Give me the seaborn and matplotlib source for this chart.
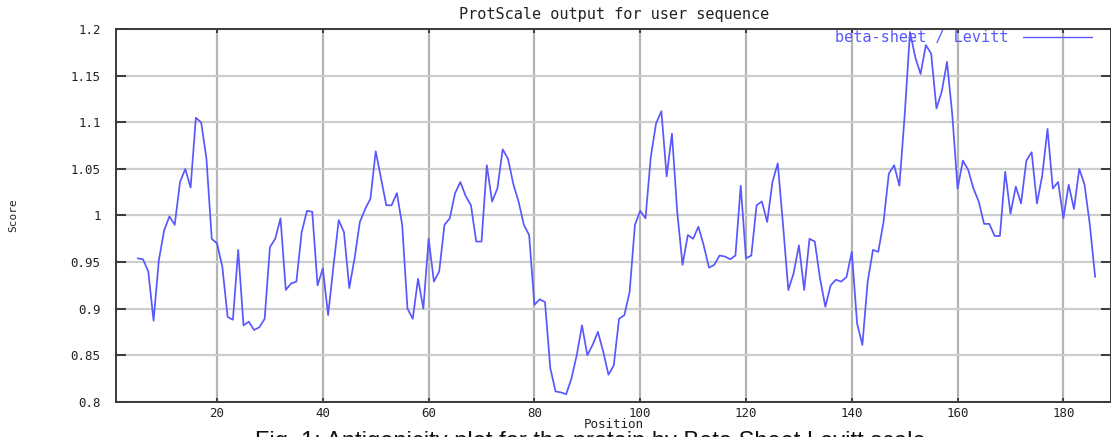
import numpy as np
import pandas as pd
import matplotlib
matplotlib.use("Agg")
import matplotlib.pyplot as plt
import seaborn as sns

# ProtScale beta-sheet (Levitt) profile, window centre positions 5..186
positions = list(range(5, 187))
scores = [
    0.954, 0.953, 0.940, 0.887, 0.952, 0.984, 0.999, 0.990, 1.036, 1.050,   # 5-14
    1.030, 1.105, 1.100, 1.061, 0.975, 0.970, 0.945, 0.891, 0.888, 0.963,   # 15-24
    0.882, 0.886, 0.877, 0.880, 0.889, 0.966, 0.975, 0.997, 0.920, 0.927,   # 25-34
    0.929, 0.982, 1.005, 1.004, 0.925, 0.943, 0.893, 0.945, 0.995, 0.982,   # 35-44
    0.922, 0.954, 0.993, 1.007, 1.018, 1.069, 1.040, 1.011, 1.011, 1.024,   # 45-54
    0.990, 0.900, 0.889, 0.932, 0.900, 0.975, 0.929, 0.940, 0.990, 0.997,   # 55-64
    1.024, 1.036, 1.021, 1.011, 0.972, 0.972, 1.054, 1.015, 1.029, 1.071,   # 65-74
    1.061, 1.034, 1.015, 0.990, 0.979, 0.904, 0.910, 0.907, 0.836, 0.811,   # 75-84
    0.810, 0.808, 0.825, 0.850, 0.882, 0.850, 0.861, 0.875, 0.854, 0.829,   # 85-94
    0.839, 0.889, 0.893, 0.918, 0.990, 1.005, 0.997, 1.063, 1.099, 1.112,   # 95-104
    1.042, 1.088, 1.004, 0.947, 0.979, 0.975, 0.988, 0.968, 0.944, 0.947,   # 105-114
    0.957, 0.956, 0.953, 0.957, 1.032, 0.954, 0.957, 1.011, 1.015, 0.993,   # 115-124
    1.036, 1.056, 0.990, 0.920, 0.938, 0.968, 0.920, 0.975, 0.972, 0.932,   # 125-134
    0.902, 0.925, 0.931, 0.929, 0.934, 0.961, 0.884, 0.861, 0.929, 0.963,   # 135-144
    0.961, 0.993, 1.045, 1.054, 1.032, 1.108, 1.197, 1.170, 1.152, 1.183,   # 145-154
    1.174, 1.115, 1.133, 1.165, 1.108, 1.029, 1.059, 1.049, 1.029, 1.015,   # 155-164
    0.991, 0.991, 0.978, 0.978, 1.047, 1.002, 1.031, 1.013, 1.059, 1.068,   # 165-174
    1.013, 1.043, 1.093, 1.029, 1.036, 0.997, 1.033, 1.007, 1.050, 1.033,   # 175-184
    0.990, 0.934,                                                           # 185-186
]

x_ticks = [20, 40, 60, 80, 100, 120, 140, 160, 180]
y_ticks = [0.8, 0.85, 0.9, 0.95, 1.0, 1.05, 1.1, 1.15, 1.2]
y_tick_labels = ["0.8", "0.85", "0.9", "0.95", "1", "1.05", "1.1", "1.15", "1.2"]

series_label = "beta-sheet / Levitt"
title_text = "ProtScale output for user sequence"
caption_text = "Fig. 1: Antigenicity plot for the protein by Beta Sheet Levitt scale"

df = pd.DataFrame({"Position": positions, "Score": scores})

sns.set_style("white")
plt.rcParams["font.family"] = ["DejaVu Sans Mono", "DejaVu Sans"]

W, H = 1111, 437
fig = plt.figure(figsize=(W / 100, H / 100), dpi=100)
ax_left, ax_right, ax_top, ax_bottom = 116, 1111, 29.3, 401.7
ax = fig.add_axes([ax_left / W, (H - ax_bottom) / H,
                   (ax_right - ax_left) / W, (ax_bottom - ax_top) / H])

line_color = "#5858ff"
sns.lineplot(data=df, x="Position", y="Score", ax=ax, color=line_color,
             linewidth=1.25, label=series_label, zorder=3)

ax.set_xlim(0.9, 189.0)
ax.set_ylim(0.8, 1.2)
ax.set_xticks(x_ticks)
ax.set_xticklabels([str(t) for t in x_ticks])
ax.set_yticks(y_ticks)
ax.set_yticklabels(y_tick_labels)

# grid: darker verticals, lighter horizontals
ax.xaxis.grid(True, color="#b4b4b4", linewidth=1.6)
ax.yaxis.grid(True, color="#cdcdcd", linewidth=1.6)
ax.set_axisbelow(True)

for side in ["left", "top", "bottom", "right"]:
    ax.spines[side].set_color("#3a3a3a")
    ax.spines[side].set_linewidth(1.4)

ax.tick_params(axis="x", which="major", direction="in", length=3, width=1.4,
               color="#3a3a3a", top=True, bottom=True, labelsize=9, pad=4,
               labelcolor="#222222")
ax.tick_params(axis="y", which="major", direction="in", length=7, width=1.4,
               color="#3a3a3a", left=True, right=True, labelsize=9, pad=11,
               labelcolor="#222222")

ax.set_xlabel("Position", fontsize=9, color="#222222", va="center")
ax.xaxis.set_label_coords(0.5, -(425 - ax_bottom) / (ax_bottom - ax_top))
ax.set_ylabel("Score", fontsize=8, color="#222222")
ax.yaxis.set_label_coords(-(ax_left - 18) / (ax_right - ax_left), 0.5)

fig.text(614 / W, 1 - 14 / H, title_text, ha="center", va="center",
         fontsize=11, color="#222222")

leg = ax.legend(loc="upper right", bbox_to_anchor=((1092 - ax_left) / (ax_right - ax_left), 0.997),
                frameon=False, markerfirst=False, fontsize=11, handlelength=4.5,
                handletextpad=1.0, borderpad=0, borderaxespad=0,
                labelcolor=line_color)
for h in leg.get_lines():
    h.set_linewidth(1.0)

# figure caption sits at the lower edge, only its upper part inside the canvas
fig.text(590 / W, 1 - 431 / H, caption_text, ha="center", va="top",
         fontsize=17, family="Liberation Sans", color="#111111")

fig.savefig("out.png", dpi=100)
